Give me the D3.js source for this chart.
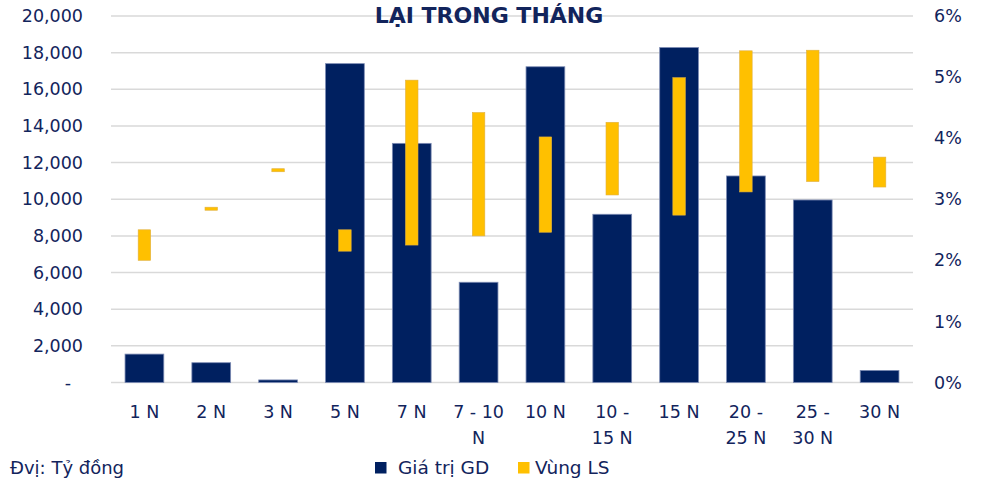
<!DOCTYPE html>
<html>
<head>
<meta charset="utf-8">
<script src="https://cdn.jsdelivr.net/npm/d3@7"></script>
<style>
  html, body { margin: 0; padding: 0; background: #ffffff; }
  svg { display: block; }
  text { font-family: "DejaVu Sans", Verdana, sans-serif; fill: #12245c; }
</style>
</head>
<body>
<svg id="chart" width="984" height="482"></svg>
<script>
// Kỳ hạn giao dịch
const categories = ["1 N", "2 N", "3 N", "5 N", "7 N", "7 - 10 N", "10 N", "10 - 15 N", "15 N", "20 - 25 N", "25 - 30 N", "30 N"];
// Giá trị GD (tỷ đồng)
const tradeValue = [1550, 1080, 140, 17400, 13050, 5470, 17230, 9180, 18280, 11270, 9960, 660];
// Vùng lãi suất (%): thấp nhất và cao nhất
const rateLow  = [2.00, 2.82, 3.45, 2.15, 2.25, 2.40, 2.46, 3.07, 2.74, 3.12, 3.29, 3.20];
const rateHigh = [2.50, 2.87, 3.50, 2.50, 4.95, 4.42, 4.02, 4.26, 4.99, 5.43, 5.44, 3.69];
// Nhãn trục
const leftTicks = [0, 2000, 4000, 6000, 8000, 10000, 12000, 14000, 16000, 18000, 20000];
const rightTicks = [0, 1, 2, 3, 4, 5, 6];
const titleText = "LẠI TRONG THÁNG";
const unitText = "Đvị: Tỷ đồng";
const legendLabels = ["Giá trị GD", "Vùng LS"];

const NAVY = "#002060";
const GOLD = "#ffc000";
const GRID = "#d9d9d9";

const svg = d3.select("#chart");
const margin = { left: 111, right: 984 - 913, top: 16, bottom: 482 - 382.5 };
const W = 984, H = 482;

const x = d3.scaleBand().domain(categories).range([margin.left, W - margin.right]).paddingInner(0.42).paddingOuter(0.21);
const xc = d3.scaleBand().domain(categories).range([margin.left, W - margin.right]);
const yL = d3.scaleLinear().domain([0, 20000]).range([H - margin.bottom, margin.top]);
const yR = d3.scaleLinear().domain([0, 6]).range([H - margin.bottom, margin.top]);

// Lưới ngang
svg.append("g")
  .selectAll("line")
  .data(leftTicks)
  .join("line")
  .attr("x1", margin.left).attr("x2", W - margin.right)
  .attr("y1", d => yL(d)).attr("y2", d => yL(d))
  .attr("stroke", GRID).attr("stroke-width", 1.5);

// Trục trái
const fmt = d3.format(",");
const axL = svg.append("g")
  .attr("transform", `translate(${margin.left - 28},0)`)
  .call(d3.axisLeft(yL).tickValues(leftTicks).tickSize(0).tickPadding(0)
    .tickFormat(d => d === 0 ? "-" : fmt(d)));
axL.select(".domain").remove();
axL.selectAll("text")
  .style("font-size", "17.5px")
  .attr("fill", "#12245c")
  .attr("dx", d => d === 0 ? -12 : 0);

// Trục phải
const axR = svg.append("g")
  .attr("transform", `translate(${W - margin.right + 21},0)`)
  .call(d3.axisRight(yR).tickValues(rightTicks).tickSize(0).tickPadding(0)
    .tickFormat(d => d + "%"));
axR.select(".domain").remove();
axR.selectAll("text").style("font-size", "17.5px").attr("fill", "#12245c");

// Cột giá trị giao dịch
svg.append("g")
  .selectAll("rect")
  .data(categories)
  .join("rect")
  .attr("x", d => x(d))
  .attr("width", x.bandwidth())
  .attr("y", (d, i) => yL(tradeValue[i]))
  .attr("height", (d, i) => yL(0) - yL(tradeValue[i]))
  .attr("fill", NAVY)
  .attr("stroke", "#7c8bb3").attr("stroke-width", 0.8);

// Vùng lãi suất (cột nổi)
const rw = 12.5;
svg.append("g")
  .selectAll("rect")
  .data(categories)
  .join("rect")
  .attr("x", d => xc(d) + xc.bandwidth() / 2 - rw / 2)
  .attr("width", rw)
  .attr("y", (d, i) => yR(rateHigh[i]))
  .attr("height", (d, i) => yR(rateLow[i]) - yR(rateHigh[i]))
  .attr("fill", GOLD)
  .attr("stroke", "#e0b040").attr("stroke-width", 0.6);

// Nhãn trục hoành (tự xuống dòng)
const maxLabelW = 55;
const labelG = svg.append("g");
categories.forEach(c => {
  const cx = xc(c) + xc.bandwidth() / 2;
  const t = labelG.append("text")
    .attr("x", cx)
    .attr("y", 418)
    .attr("text-anchor", "middle")
    .style("font-size", "17.5px");
  const words = c.split(" ");
  let line = [];
  let tspan = t.append("tspan").attr("x", cx).attr("dy", 0);
  words.forEach(w => {
    line.push(w);
    tspan.text(line.join(" "));
    if (tspan.node().getComputedTextLength() > maxLabelW && line.length > 1) {
      line.pop();
      tspan.text(line.join(" "));
      line = [w];
      tspan = t.append("tspan").attr("x", cx).attr("dy", 25.5).text(w);
    }
  });
});

// Tiêu đề
svg.append("text")
  .attr("x", 489).attr("y", 23)
  .attr("text-anchor", "middle")
  .style("font-size", "22px").style("font-weight", "bold")
  .attr("fill", "#12245c")
  .text(titleText);

// Đơn vị
svg.append("text")
  .attr("x", 10).attr("y", 474)
  .style("font-size", "18px")
  .text(unitText);

// Chú giải
const legend = svg.append("g");
const legendItems = [
  { label: legendLabels[0], color: NAVY, x: 375, gap: 23 },
  { label: legendLabels[1], color: GOLD, x: 518, gap: 17 }
];
legendItems.forEach(it => {
  legend.append("rect").attr("x", it.x).attr("y", 462).attr("width", 11.5).attr("height", 11.5).attr("fill", it.color);
  legend.append("text").attr("x", it.x + it.gap).attr("y", 474).style("font-size", "18.5px").text(it.label);
});
</script>
</body>
</html>
